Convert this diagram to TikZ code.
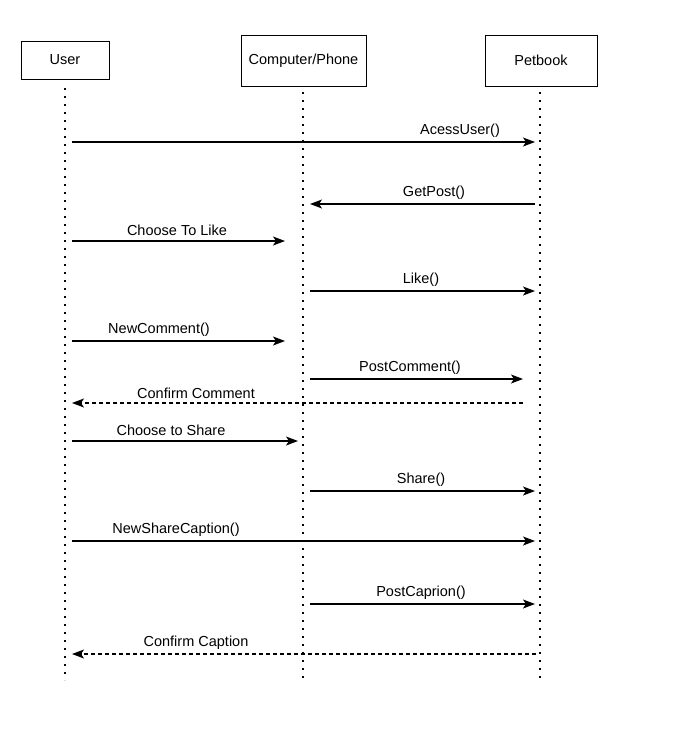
\documentclass[tikz,border=0pt]{standalone}
\usepackage{fontspec}
\setmainfont{Liberation Sans}
\usetikzlibrary{arrows.meta}
\begin{document}
\begin{tikzpicture}[x=1pt,y=-1pt,
  actor/.style={draw,line width=1pt,minimum height=#1,inner sep=0pt},
  lifeline/.style={line width=2.4pt,dash pattern=on 2.4pt off 5.6pt},
  msg/.style={line width=1.2pt,-{Stealth[length=12pt,width=9pt,inset=3pt]}},
  ret/.style={msg,dash pattern=on 4pt off 3pt},
  lbl/.style={font=\fontsize{14.5}{16}\selectfont,inner sep=0pt}]
\useasboundingbox (0,0) rectangle (692,742);
% actors
\node[actor=38pt,minimum width=88pt] (user) at (65,60) {\fontsize{14.5}{16}\selectfont User};
\node[actor=51pt,minimum width=125pt] (comp) at (303.5,60.5) {\fontsize{14.5}{16}\selectfont Computer/Phone};
\node[actor=51pt,minimum width=112pt] (pet) at (541,60.5) {\fontsize{14.5}{16}\selectfont Petbook};
% lifeline ends
\coordinate (ue) at (65,680);
\coordinate (ce) at (303,680);
\coordinate (pe) at (540,680);
\draw[lifeline] (65,88) -- (ue);
\draw[lifeline] (303,92) -- (ce);
\draw[lifeline] (540,92) -- (pe);
% messages
\coordinate (a1) at (72,142);  \coordinate (b1) at (535,142);
\coordinate (a2) at (535,204); \coordinate (b2) at (310,204);
\coordinate (a3) at (72,241);  \coordinate (b3) at (285,241);
\coordinate (a4) at (310,291); \coordinate (b4) at (535,291);
\coordinate (a5) at (72,341);  \coordinate (b5) at (285,341);
\coordinate (a6) at (310,379); \coordinate (b6) at (523,379);
\coordinate (a7) at (523,403); \coordinate (b7) at (72,403);
\coordinate (a8) at (72,441);  \coordinate (b8) at (298,441);
\coordinate (a9) at (310,491); \coordinate (b9) at (535,491);
\coordinate (a10) at (72,541); \coordinate (b10) at (535,541);
\coordinate (a11) at (310,604);\coordinate (b11) at (535,604);
\coordinate (a12) at (536,654);\coordinate (b12) at (72,654);
\draw[msg] (a1) -- (b1);
\draw[msg] (a2) -- (b2);
\draw[msg] (a3) -- (b3);
\draw[msg] (a4) -- (b4);
\draw[msg] (a5) -- (b5);
\draw[msg] (a6) -- (b6);
\draw[ret] (a7) -- (b7);
\draw[msg] (a8) -- (b8);
\draw[msg] (a9) -- (b9);
\draw[msg] (a10) -- (b10);
\draw[msg] (a11) -- (b11);
\draw[ret] (a12) -- (b12);
% labels
\node[lbl] (l1) at (460,131) {AcessUser()};
\node[lbl] (l2) at (434,193) {GetPost()};
\node[lbl] (l3) at (177,230) {Choose To Like};
\node[lbl] (l4) at (421,280) {Like()};
\node[lbl] (l5) at (159,330) {NewComment()};
\node[lbl] (l6) at (410,368) {PostComment()};
\node[lbl] (l7) at (196,393) {Confirm Comment};
\node[lbl] (l8) at (171,430) {Choose to Share};
\node[lbl] (l9) at (421,480) {Share()};
\node[lbl] (l10) at (176,530) {NewShareCaption()};
\node[lbl] (l11) at (421,593) {PostCaprion()};
\node[lbl] (l12) at (196,643) {Confirm Caption};
\end{tikzpicture}
\end{document}
